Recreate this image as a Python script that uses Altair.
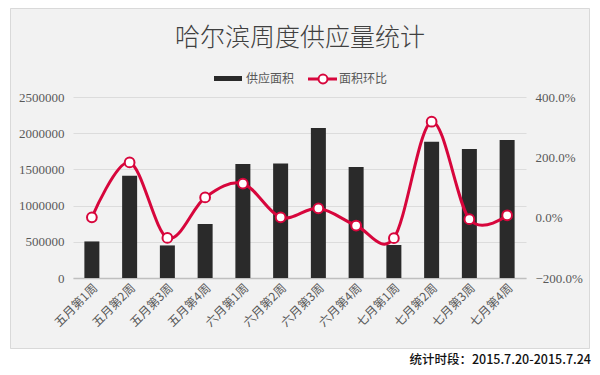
import altair as alt
import pandas as pd

weeks = ["五月第1周", "五月第2周", "五月第3周", "五月第4周",
         "六月第1周", "六月第2周", "六月第3周", "六月第4周",
         "七月第1周", "七月第2周", "七月第3周", "七月第4周"]
area = [505000, 1413000, 450000, 746000, 1575000, 1583000,
        2072000, 1533000, 456000, 1883000, 1782000, 1906000]
ratio = [0.01, 1.83, -0.67, 0.67, 1.13, 0.01,
         0.31, -0.26, -0.68, 3.18, -0.05, 0.08]

title_text = "哈尔滨周度供应量统计"
legend_bar = "供应面积"
legend_line = "面积环比"
footnote = "统计时段：2015.7.20-2015.7.24"

RED = "#d7063c"
BAR = "#2a2a2a"
CJK = "Noto Sans CJK SC"

df = pd.DataFrame({"week": weeks, "area": area, "ratio": ratio})
one = pd.DataFrame({"a": [0]})

xenc = alt.X("week:N", sort=weeks, title=None,
             scale=alt.Scale(paddingInner=0, paddingOuter=0),
             axis=alt.Axis(labelAngle=-45, labelFont=CJK, labelFontSize=12,
                           labelColor="#595959", ticks=False, domainColor="#bfbfbf",
                           domainWidth=1.5, labelPadding=4))

bars = alt.Chart(df).mark_bar(size=15, color=BAR).encode(
    x=xenc,
    y=alt.Y("area:Q", title=None,
            scale=alt.Scale(domain=[0, 2500000], nice=False),
            axis=alt.Axis(values=[0, 500000, 1000000, 1500000, 2000000, 2500000],
                          format="d", labelFont="Liberation Serif", labelFontSize=13,
                          labelColor="#595959", domain=False, ticks=False,
                          gridColor="#dcdcdc", gridWidth=1.2, labelPadding=9)),
)

yr = alt.Y("ratio:Q", title=None,
           scale=alt.Scale(domain=[-2, 4], nice=False),
           axis=alt.Axis(orient="right", values=[-2, 0, 2, 4], format=".1%",
                         labelFont="Liberation Serif", labelFontSize=13,
                         labelColor="#595959", domain=False, ticks=False,
                         grid=False, labelPadding=9))

line = alt.Chart(df).mark_line(interpolate="cardinal", color=RED, strokeWidth=3).encode(
    x=alt.X("week:N", sort=weeks), y=yr)
pts = alt.Chart(df).mark_point(shape="circle", filled=True, fill="white", stroke=RED,
                               strokeWidth=2, size=95, opacity=1).encode(
    x=alt.X("week:N", sort=weeks), y=yr)
line_layer = alt.layer(line, pts)

# decorations (panel edges, title, legend, footnote)
base = alt.Chart(one)
strip_bottom = base.mark_rect(fill="white").encode(
    x=alt.value(-65), x2=alt.value(519), y=alt.value(252), y2=alt.value(270))
strip_left = base.mark_rect(fill="white").encode(
    x=alt.value(-65), x2=alt.value(-63), y=alt.value(-89), y2=alt.value(270))
strip_right = base.mark_rect(fill="white").encode(
    x=alt.value(517), x2=alt.value(519), y=alt.value(-89), y2=alt.value(270))
border = base.mark_rect(fillOpacity=0, stroke="#d9d9d9", strokeWidth=1).encode(
    x=alt.value(-62.5), x2=alt.value(516.5), y=alt.value(-88.5), y2=alt.value(251.5))

title = base.mark_text(text=title_text, font=CJK, fontSize=25, fontWeight=300,
                       color="#404040", align="center", baseline="middle").encode(
    x=alt.value(227), y=alt.value(-59))

leg_box = base.mark_rect(fill=BAR).encode(
    x=alt.value(141), x2=alt.value(169), y=alt.value(-21), y2=alt.value(-16))
leg_text1 = base.mark_text(text=legend_bar, font=CJK, fontSize=12, color="#595959",
                           align="left", baseline="middle").encode(
    x=alt.value(173), y=alt.value(-18))
leg_line = base.mark_rule(color=RED, strokeWidth=3).encode(
    x=alt.value(235), x2=alt.value(264), y=alt.value(-18))
leg_pt = base.mark_point(shape="circle", filled=True, fill="white", stroke=RED,
                         strokeWidth=2, size=80, opacity=1).encode(
    x=alt.value(250), y=alt.value(-18))
leg_text2 = base.mark_text(text=legend_line, font=CJK, fontSize=12, color="#595959",
                           align="left", baseline="middle").encode(
    x=alt.value(266), y=alt.value(-18))

foot = base.mark_text(text=footnote, font=CJK, fontSize=12.5, fontWeight=500,
                      color="#111111", align="right", baseline="bottom").encode(
    x=alt.value(518), y=alt.value(270))

chart = alt.layer(
    bars, line_layer,
    strip_bottom, strip_left, strip_right, border,
    title, leg_box, leg_text1, leg_line, leg_pt, leg_text2, foot,
).resolve_scale(y="independent").properties(
    width=453, height=181,
    autosize=alt.AutoSizeParams(type="none"),
    padding={"left": 65, "top": 89, "right": 66, "bottom": 89},
    background="#f2f2f2",
).configure_view(stroke=None)

chart.save("out.html", embed_options={"renderer": "svg", "actions": False})
